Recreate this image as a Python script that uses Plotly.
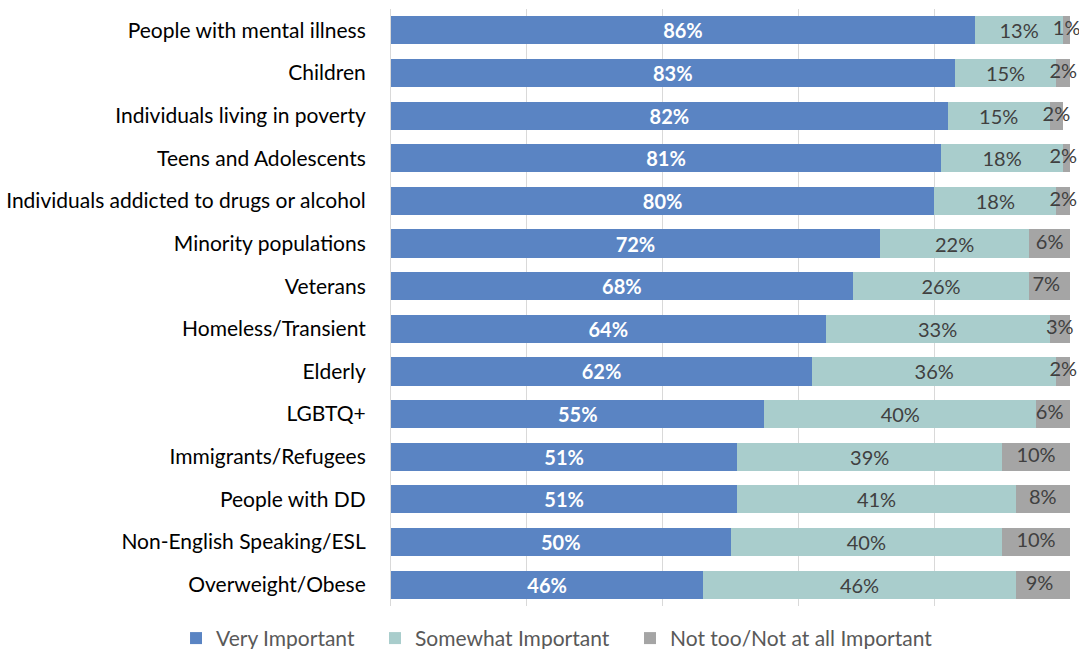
import plotly.graph_objects as go

categories = [
    "People with mental illness",
    "Children",
    "Individuals living in poverty",
    "Teens and Adolescents",
    "Individuals addicted to drugs or alcohol",
    "Minority populations",
    "Veterans",
    "Homeless/Transient",
    "Elderly",
    "LGBTQ+",
    "Immigrants/Refugees",
    "People with DD",
    "Non-English Speaking/ESL",
    "Overweight/Obese",
]
very_important = [86, 83, 82, 81, 80, 72, 68, 64, 62, 55, 51, 51, 50, 46]
somewhat_important = [13, 15, 15, 18, 18, 22, 26, 33, 36, 40, 39, 41, 40, 46]
not_important = [1, 2, 2, 2, 2, 6, 7, 3, 2, 6, 10, 8, 10, 9]

series_names = ["Very Important", "Somewhat Important", "Not too/Not at all Important"]
colors = ["#5A84C3", "#A9CDCC", "#A5A5A5"]

FONT = "Lato"
fig = go.Figure()

fig.add_trace(go.Bar(
    y=categories, x=very_important, orientation="h", name=series_names[0],
    marker=dict(color=colors[0], line=dict(width=0)), legend="legend",
    text=[f"<b>{v}%</b>" for v in very_important], textposition="inside",
    insidetextanchor="middle", constraintext="none",
    textfont=dict(color="white", size=20, family=FONT),
))
fig.add_trace(go.Bar(
    y=categories, x=somewhat_important, orientation="h", name=series_names[1],
    marker=dict(color=colors[1], line=dict(width=0)), legend="legend2",
    text=[f"{v}%" for v in somewhat_important], textposition="inside",
    insidetextanchor="middle", constraintext="none",
    textfont=dict(color="#404040", size=20, family=FONT),
))
fig.add_trace(go.Bar(
    y=categories, x=not_important, orientation="h", name=series_names[2],
    marker=dict(color=colors[2], line=dict(width=0)), legend="legend3",
))
# labels for the thin grey segments, centred on each segment (kept inside the 100% edge)
gray_centers = [min(a + b + c / 2, 100 - c / 2)
                for a, b, c in zip(very_important, somewhat_important, not_important)]
fig.add_trace(go.Scatter(
    y=categories, x=gray_centers, mode="text",
    text=[f"{v}%" for v in not_important],
    textfont=dict(color="#404040", size=20, family=FONT),
    showlegend=False, cliponaxis=False, hoverinfo="skip",
))

legend_style = dict(
    orientation="h", xref="paper", yref="paper", y=-0.02,
    xanchor="left", yanchor="top",
    font=dict(size=21, family=FONT, color="#595959"),
)

fig.update_layout(
    barmode="stack",
    bargap=0.34,
    width=1079, height=649,
    margin=dict(l=391, r=9, t=9, b=43, autoexpand=False),
    paper_bgcolor="white", plot_bgcolor="white",
    font=dict(family=FONT, size=21, color="#000000"),
    xaxis=dict(
        range=[0, 100], dtick=20, showgrid=True, gridcolor="#D9D9D9", gridwidth=1,
        showticklabels=False, zeroline=False, showline=False, fixedrange=True,
    ),
    yaxis=dict(
        range=[len(categories) - 0.5, -0.5], showgrid=False, showline=True,
        linecolor="#D9D9D9", ticks="", ticklabelstandoff=20,
        tickfont=dict(size=21, family=FONT, color="#000000"),
    ),
    legend=dict(legend_style, x=-0.3166),
    legend2=dict(legend_style, x=-0.0236),
    legend3=dict(legend_style, x=0.352),
)

fig.write_html("out.html")
